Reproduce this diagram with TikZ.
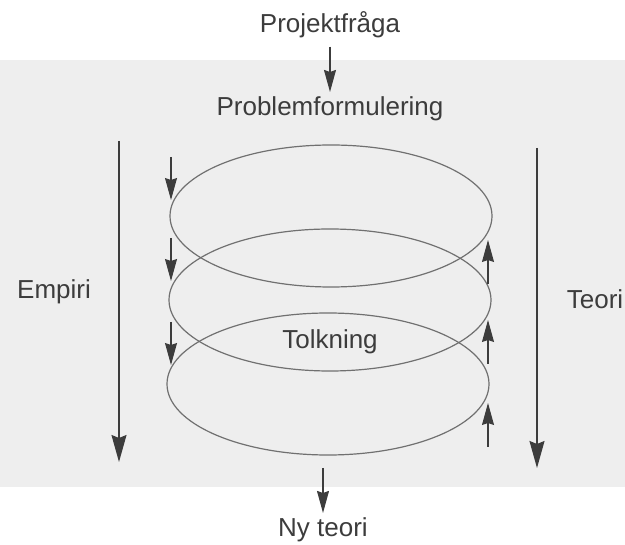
\documentclass[tikz,border=0pt]{standalone}
\usepackage{fontspec}
\setmainfont{Liberation Sans}
\usetikzlibrary{arrows.meta, shapes.geometric}
\definecolor{inkgray}{HTML}{3C3C3C}
\definecolor{linegray}{HTML}{707070}
\definecolor{scangray}{HTML}{EEEEEE}
\tikzset{
	word/.style={font=\fontsize{26}{30}\selectfont, text=inkgray, inner sep=0pt, anchor=base},
	ring/.style={draw=linegray, line width=1.2pt, ellipse, minimum width=322pt, minimum height=142pt, inner sep=0pt},
	shortarrow/.style={-{Stealth[length=22pt,width=12pt,inset=2pt]}, draw=inkgray, line width=1.1pt},
	longarrow/.style={-{Stealth[length=27pt,width=15pt,inset=3pt]}, draw=inkgray, line width=1.5pt}
}

\begin{document}
\begin{tikzpicture}[x=1pt, y=-1pt]
	\useasboundingbox (0,0) rectangle (625,545);
	\fill[scangray] (0,60) rectangle (625,487);

	% the three turns of the spiral
	\node[ring] (ring1) at (331,216) {};
	\node[ring] (ring2) at (330,300) {};
	\node[ring] (ring3) at (328,384) {};

	\node[word] (fraga)   at (330,33)  {Projektfråga};
	\node[word] (problem) at (330,116) {Problemformulering};
	\node[word] (tolk)    at (330,349) {Tolkning};
	\node[word] (empiri)  at (54,299)  {Empiri};
	\node[word] (teori)   at (595,309) {Teori};
	\node[word] (nyteori) at (323,537) {Ny teori};

	\draw[shortarrow, shorten <=8pt, shorten >=5pt] (fraga) -- (problem);

	\coordinate (out) at (323,468);
	\draw[shortarrow, shorten >=5pt] (out) -- (nyteori);

	% long side arrows
	\coordinate (emptop) at (119,141);
	\coordinate (empbot) at (119,462);
	\coordinate (teotop) at (537,148);
	\coordinate (teobot) at (537,468);
	\draw[longarrow] (emptop) -- (empbot);
	\draw[longarrow] (teotop) -- (teobot);

	% down on the left, up on the right
	\foreach \i/\y in {1/157, 2/238, 3/322} {
		\coordinate (down\i) at (171,\y);
		\coordinate (downend\i) at (171,\y+43);
		\draw[shortarrow] (down\i) -- (downend\i);
	}
	\foreach \i/\y in {1/284, 2/364, 3/447} {
		\coordinate (up\i) at (488,\y);
		\coordinate (upend\i) at (488,\y-44);
		\draw[shortarrow] (up\i) -- (upend\i);
	}
\end{tikzpicture}
\end{document}
